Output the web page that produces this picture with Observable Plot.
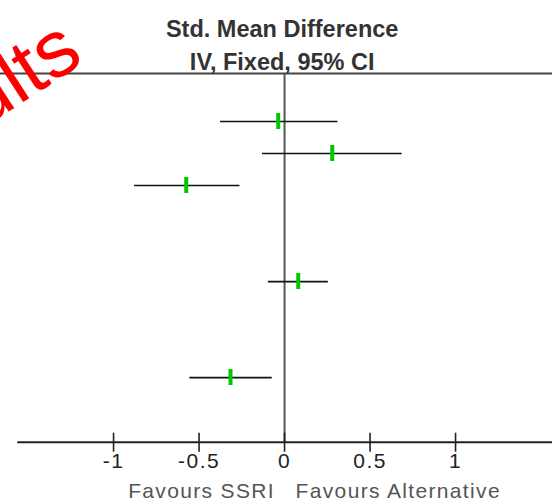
<!DOCTYPE html>
<html><head><meta charset="utf-8">
<script src="https://cdn.jsdelivr.net/npm/d3@7"></script>
<script src="https://cdn.jsdelivr.net/npm/@observablehq/plot@0.6"></script>
<style>
body{margin:0;background:#fff}
</style></head><body><div id="chart"></div>
<script>
const studyRow = [0, 1, 2, 5, 8];
const smd = [-0.037, 0.279, -0.575, 0.080, -0.316];
const ciLow = [-0.374, -0.129, -0.877, -0.095, -0.554];
const ciHigh = [0.312, 0.688, -0.261, 0.256, -0.072];
const xTicks = [-1, -0.5, 0, 0.5, 1];
const xTickLabels = ["-1", "-0.5", "0", "0.5", "1"];
const titleLines = ["Std. Mean Difference", "IV, Fixed, 95% CI"];
const favourLabels = ["Favours SSRI", "Favours Alternative"];
const watermark = "Results";
const xDomain = [-1.56, 1.567];
const yDomain = [-1.5, 10.02];

const rows = studyRow.map((r, i) => ({row: r, smd: smd[i], lo: ciLow[i], hi: ciHigh[i]}));

const chart = Plot.plot({
  width: 552, height: 501,
  marginLeft: 17.3, marginRight: 0, marginTop: 73, marginBottom: 59.3,
  style: {fontFamily: "Liberation Sans, Arial, sans-serif", fontSize: "21px", background: "white"},
  x: {domain: xDomain, axis: null},
  y: {domain: yDomain, reverse: true, axis: null},
  marks: [
    Plot.ruleX([0], {stroke: "#555", strokeWidth: 2}),
    Plot.ruleY([yDomain[0]], {stroke: "#444", strokeWidth: 2.2, insetLeft: -18}),
    Plot.ruleY([yDomain[1]], {stroke: "#222", strokeWidth: 2}),
    Plot.axisX(xTicks, {tickSize: 19, dy: -9, fill: "none", stroke: "#222", strokeWidth: 1.6, tickFormat: () => ""}),
    Plot.axisX(xTicks, {tickSize: 0, tickPadding: 11, fill: "#222", fontSize: 21,
      tickFormat: d => xTickLabels[xTicks.indexOf(d)]}),
    Plot.ruleY(rows, {y: "row", x1: "lo", x2: "hi", stroke: "#111", strokeWidth: 1.7}),
    Plot.ruleX(rows, {x: "smd", y1: d => d.row - 0.25, y2: d => d.row + 0.25, stroke: "#00c800", strokeWidth: 4}),
    Plot.text([titleLines.join("\n")], {frameAnchor: "top", lineAnchor: "bottom", lineHeight: 1.4,
      dx: -3, dy: -4, fontSize: 23.5, fontWeight: "bold", fill: "#333"}),
    Plot.text([favourLabels[0]], {x: () => 0, frameAnchor: "bottom", lineAnchor: "bottom", textAnchor: "end",
      dx: -9.5, dy: 55.3, fontSize: 21, fill: "#555"}),
    Plot.text([favourLabels[1]], {x: () => 0, frameAnchor: "bottom", lineAnchor: "bottom", textAnchor: "start",
      dx: 11, dy: 55.3, fontSize: 21, fill: "#555"}),
    Plot.text([watermark], {frameAnchor: "top-left", lineAnchor: "bottom", textAnchor: "end", rotate: -33,
      dx: 68, dy: -12, fontSize: 80, fill: "#ff0000"})
  ]
});
d3.select(chart).selectAll("text").each(function() {
  const t = this.textContent;
  if (favourLabels.includes(t)) this.style.letterSpacing = "1.35px";
  else if (xTickLabels.includes(t)) this.style.letterSpacing = "1.5px";
});
document.getElementById("chart").appendChild(chart);
</script></body></html>
